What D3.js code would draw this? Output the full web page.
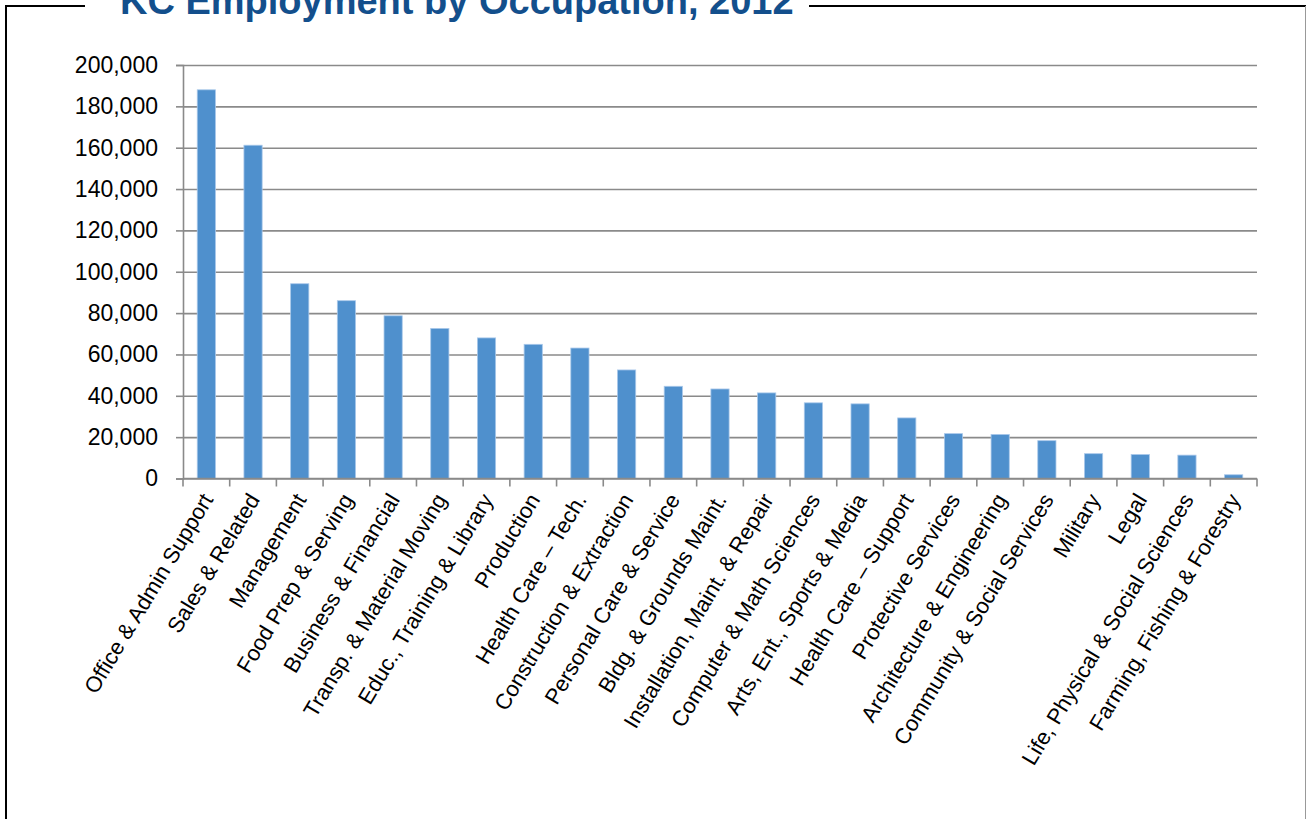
<!DOCTYPE html>
<html>
<head>
<meta charset="utf-8">
<script src="https://cdn.jsdelivr.net/npm/d3@7.9.0/dist/d3.min.js"></script>
<style>
  body { margin: 0; background: #fff; }
  svg { display: block; font-family: "Liberation Sans", Arial, sans-serif; }
</style>
</head>
<body>
<div id="chart"></div>
<script>
// occupations, largest first
const occupations = [
    'Office & Admin Support', 'Sales & Related', 'Management', 'Food Prep & Serving',
    'Business & Financial', 'Transp. & Material Moving', 'Educ., Training & Library',
    'Production', 'Health Care \u2013 Tech.', 'Construction & Extraction',
    'Personal Care & Service', 'Bldg. & Grounds Maint.', 'Installation, Maint. & Repair',
    'Computer & Math Sciences', 'Arts, Ent., Sports & Media', 'Health Care \u2013 Support',
    'Protective Services', 'Architecture & Engineering', 'Community & Social Services',
    'Military', 'Legal', 'Life, Physical & Social Sciences', 'Farming, Fishing & Forestry'
];

const employment = [
    188000, 161200, 94200, 86000, 78700, 72600, 68000, 64900, 63100, 52500,
    44600, 43300, 41400, 36600, 36100, 29300, 21700, 21300, 18300,
    12000, 11600, 11300, 1800
];

const yTicks = [0, 20000, 40000, 60000, 80000, 100000, 120000, 140000, 160000, 180000, 200000];

const title = 'KC Employment by Occupation, 2012';

const data = occupations.map((d, i) => ({ occupation: d, value: employment[i] }));

const width = 1307;
const height = 819;

const plot = { left: 183, right: 1257, top: 65, bottom: 478.5 };

const svg = d3.select('#chart')
    .append('svg')
    .attr('width', width)
    .attr('height', height);

// frame around the chart, broken by the title
const frame = svg.append('g').attr('class', 'frame');
frame.append('line')
    .attr('x1', 6).attr('y1', 6).attr('x2', 6).attr('y2', height)
    .attr('stroke', '#000').attr('stroke-width', 2);
frame.append('line')
    .attr('x1', 5).attr('y1', 6).attr('x2', 85).attr('y2', 6)
    .attr('stroke', '#000').attr('stroke-width', 2);
frame.append('line')
    .attr('x1', 809).attr('y1', 6).attr('x2', 1306).attr('y2', 6)
    .attr('stroke', '#000').attr('stroke-width', 2);
frame.append('line')
    .attr('x1', 1305.5).attr('y1', 6).attr('x2', 1305.5).attr('y2', height)
    .attr('stroke', '#999').attr('stroke-width', 1);

// title sits on the frame and is clipped at the top, as in the source
svg.append('text')
    .attr('x', 120)
    .attr('y', 14)
    .attr('fill', '#134f8c')
    .attr('font-weight', 'bold')
    .attr('font-size', '38px')
    .text(title);

const xScale = d3.scaleBand()
    .domain(occupations)
    .range([plot.left, plot.right])
    .paddingInner(0.61)
    .paddingOuter(0.305);

const slot = d3.scaleBand()
    .domain(occupations)
    .range([plot.left, plot.right]);

const yScale = d3.scaleLinear()
    .domain([0, 200000])
    .range([plot.bottom, plot.top]);

// gridlines
svg.append('g')
    .attr('class', 'gridlines')
    .attr('transform', `translate(${plot.left}, 0)`)
    .call(d3.axisLeft(yScale).tickValues(yTicks).tickFormat('').tickSize(-(plot.right - plot.left)))
    .call(g => g.select('.domain').remove())
    .call(g => g.selectAll('line').attr('stroke', '#8a8a8a').attr('stroke-width', 1.6));

// bars
svg.append('g')
    .attr('class', 'bars')
    .selectAll('rect')
    .data(data)
    .enter()
    .append('rect')
    .attr('x', d => xScale(d.occupation))
    .attr('y', d => yScale(d.value))
    .attr('width', xScale.bandwidth())
    .attr('height', d => yScale(0) - yScale(d.value))
    .attr('fill', '#4f90cd')
    .attr('stroke', '#a9c8ea')
    .attr('stroke-width', 0.8);

// y axis
svg.append('g')
    .attr('class', 'y-axis')
    .attr('transform', `translate(${plot.left}, 0)`)
    .call(d3.axisLeft(yScale).tickValues(yTicks).tickSize(7).tickPadding(18).tickFormat(d3.format(',')))
    .call(g => g.select('.domain').attr('stroke', '#8a8a8a').attr('stroke-width', 1.6))
    .call(g => g.selectAll('line').attr('stroke', '#8a8a8a').attr('stroke-width', 1.6))
    .call(g => g.selectAll('text')
        .attr('font-size', '23px')
        .attr('font-family', '"Liberation Sans", Arial, sans-serif')
        .attr('fill', '#000'));

// x axis line and category ticks (at slot boundaries)
const xAxis = svg.append('g').attr('class', 'x-axis');
xAxis.append('line')
    .attr('x1', plot.left).attr('x2', plot.right)
    .attr('y1', plot.bottom).attr('y2', plot.bottom)
    .attr('stroke', '#8a8a8a').attr('stroke-width', 1.6);

const boundaries = occupations.map(d => slot(d)).concat([plot.right]);
xAxis.selectAll('.tick')
    .data(boundaries)
    .enter()
    .append('line')
    .attr('class', 'tick')
    .attr('x1', d => d).attr('x2', d => d)
    .attr('y1', plot.bottom).attr('y2', plot.bottom + 8)
    .attr('stroke', '#8a8a8a').attr('stroke-width', 1.6);

xAxis.selectAll('.label')
    .data(occupations)
    .enter()
    .append('text')
    .attr('class', 'label')
    .attr('text-anchor', 'end')
    .attr('font-size', '22px')
    .attr('fill', '#000')
    .attr('transform', d => `translate(${slot(d) + slot.bandwidth() / 2 + 7.5}, ${plot.bottom + 21}) rotate(-59)`)
    .text(d => d);
</script>
</body>
</html>
